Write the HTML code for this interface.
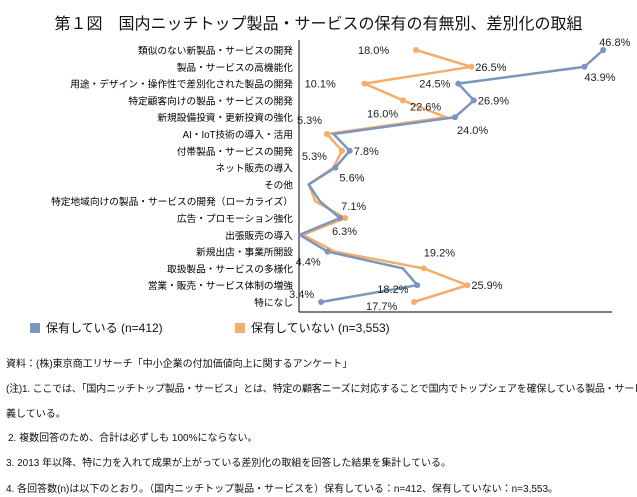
<!DOCTYPE html>
<html><head><meta charset="utf-8"><style>
body{margin:0;width:637px;height:497px;background:#fff;font-family:"Liberation Sans","Noto Sans CJK JP",sans-serif;color:#111;position:relative;overflow:hidden}
.t{position:absolute;white-space:nowrap;font-size:10px}
</style></head><body>
<div class="t" style="left:0;width:637px;text-align:center;top:10px;font-size:16px">第１図　国内ニッチトップ製品・サービスの保有の有無別、差別化の取組</div>
<svg id="chart" width="637" height="330" style="position:absolute;left:0;top:0"></svg>
<div class="t" style="left:30px;top:319px;font-size:12px"><span style="display:inline-block;width:10px;height:10px;background:#7b96bd;margin-right:6px;vertical-align:-1px"></span>保有している (n=412)</div>
<div class="t" style="left:235px;top:319px;font-size:12px"><span style="display:inline-block;width:10px;height:10px;background:#f5ad6b;margin-right:6px;vertical-align:-1px"></span>保有していない (n=3,553)</div>
<div class="t" style="left:6px;top:355px">資料：(株)東京商工リサーチ「中小企業の付加価値向上に関するアンケート」</div>
<div class="t" style="left:6px;top:380px;letter-spacing:-0.2px">(注)1.  ここでは、「国内ニッチトップ製品・サービス」とは、特定の顧客ニーズに対応することで国内でトップシェアを確保している製品・サービスと定</div>
<div class="t" style="left:6px;top:405px">義している。</div>
<div class="t" style="left:8px;top:429px">2.  複数回答のため、合計は必ずしも 100%にならない。</div>
<div class="t" style="left:6px;top:454px">3.  2013 年以降、特に力を入れて成果が上がっている差別化の取組を回答した結果を集計している。</div>
<div class="t" style="left:6px;top:480px">4.  各回答数(n)は以下のとおり。（国内ニッチトップ製品・サービスを）保有している：n=412、保有していない：n=3,553。</div>
<script>
const categories=["類似のない新製品・サービスの開発","製品・サービスの高機能化","用途・デザイン・操作性で差別化された製品の開発","特定顧客向けの製品・サービスの開発","新規設備投資・更新投資の強化","AI・IoT技術の導入・活用","付帯製品・サービスの開発","ネット販売の導入","その他","特定地域向けの製品・サービスの開発（ローカライズ）","広告・プロモーション強化","出張販売の導入","新規出店・事業所開設","取扱製品・サービスの多様化","営業・販売・サービス体制の増強","特になし"];
const haveValues=[46.8,43.9,24.5,26.9,24.0,5.3,7.8,5.6,1.5,3.2,6.3,0.1,4.4,16.0,18.2,3.4];
const notHaveValues=[18.0,26.5,10.1,16.0,22.6,4.3,6.6,5.3,1.5,2.5,7.1,0.6,5.5,19.2,25.9,17.7];
const haveLabels=[[0,"46.8%",-4,-4],[1,"43.9%",0,14],[2,"24.5%",-39,4],[3,"26.9%",4,4],[4,"24.0%",2,17],[6,"7.8%",4,4],[7,"5.6%",4,14],[10,"6.3%",-8,17],[12,"4.4%",-32,14],[14,"18.2%",-40,8],[15,"3.4%",-32,-4]];
const notHaveLabels=[[0,"18.0%",-58,4],[1,"26.5%",4,4],[2,"10.1%",-60,4],[3,"16.0%",-36,17],[3,"22.6%",7,10],[5,"5.3%",-30,-10],[6,"5.3%",-40,9],[10,"7.1%",-4,-8],[13,"19.2%",0,-12],[14,"25.9%",4,4],[15,"17.7%",-48,8]];
const svg=document.getElementById('chart');const NS='http://www.w3.org/2000/svg';
const x0=299,pxPer=6.5,y0=50,step=16.8;
const xs=v=>x0+v*pxPer, ys=i=>y0+i*step;
function mk(tag,attrs){const e=document.createElementNS(NS,tag);for(const k in attrs)e.setAttribute(k,attrs[k]);svg.appendChild(e);return e;}
let ax=mk('line',{x1:x0,y1:40,x2:x0,y2:312,stroke:'#000'});


let bx=mk('line',{x1:x0,y1:312,x2:612,y2:312,stroke:'#000'});


categories.forEach((c,i)=>{const t=mk('text',{x:x0-6,y:ys(i)+4,'text-anchor':'end','font-size':'9.7'});t.textContent=c;

});
function series(vals,color,name,labels){
 const pts=vals.map((v,i)=>xs(v)+','+ys(i)).join(' ');
 const l=mk('polyline',{points:pts,fill:'none',stroke:color,'stroke-width':'2.5'});
 
 
 labels.forEach(([i,txt,dx,dy])=>{const c=mk('circle',{cx:xs(vals[i]),cy:ys(i),r:3,fill:color});
 
 
 const t=mk('text',{x:xs(vals[i])+dx,y:ys(i)+dy,'font-size':'11',fill:'#222'});t.textContent=txt;
 
 });
}
series(notHaveValues,'#f5ad6b','not-have',notHaveLabels);
series(haveValues,'#7b96bd','have',haveLabels);
</script>
</body></html>
